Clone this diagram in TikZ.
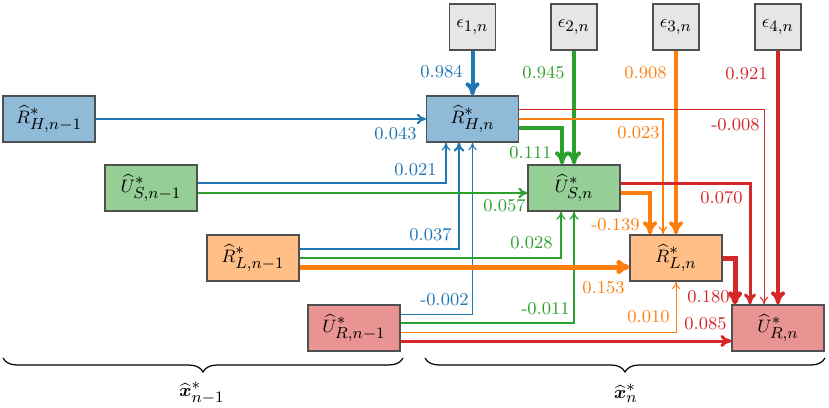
\documentclass[tikz,border=0pt]{standalone}
\usepackage{amsmath}
\DeclareMathSizes{9}{9}{8}{6}
\usetikzlibrary{arrows.meta,calc,decorations.pathreplacing}
\definecolor{cblue}{HTML}{1F77B4}
\definecolor{cgreen}{HTML}{2CA02C}
\definecolor{corange}{HTML}{FF7F0E}
\definecolor{cred}{HTML}{D62728}
\definecolor{boxline}{HTML}{505050}
\definecolor{epsfill}{HTML}{E6E6E6}
\tikzset{
  bx/.style={draw=boxline, line width=0.6pt, minimum width=46pt, minimum height=23pt, inner sep=0pt, font=\small},
  ebx/.style={draw=boxline, line width=0.6pt, fill=epsfill, minimum width=23pt, minimum height=23pt, inner sep=0pt, font=\small},
  lab/.style={inner sep=0pt, anchor=east, font=\small},
  w1/.style={line width=0.5pt, -{To[length=3.8pt,width=4.2pt]}},
  w2/.style={line width=0.65pt, -{To[length=4pt,width=4.5pt]}},
  w3/.style={line width=1pt, -{To[length=4.5pt,width=5.2pt]}},
  w4/.style={line width=1.5pt, -{To[length=5.5pt,width=6pt]}},
  w5/.style={line width=2pt, -{To[length=6.5pt,width=7pt]}},
  w6/.style={line width=2.5pt, -{To[length=6.5pt,width=7pt]}},
  brc/.style={decorate, decoration={brace, mirror, amplitude=7pt}, line width=0.6pt},
}
\begin{document}
\begin{tikzpicture}[x=0.5pt, y=-0.5pt]
\useasboundingbox (0,0) rectangle (829,407);
% previous state
\node[bx, fill=cblue!50!white]   (RHp) at (49,119)  {$\widehat{R}^*_{H,n-1}$};
\node[bx, fill=cgreen!50!white]  (USp) at (151,188) {$\widehat{U}^*_{S,n-1}$};
\node[bx, fill=corange!50!white] (RLp) at (253,258) {$\widehat{R}^*_{L,n-1}$};
\node[bx, fill=cred!50!white]    (URp) at (354,328) {$\widehat{U}^*_{R,n-1}$};
% current state
\node[bx, fill=cblue!50!white]   (RH) at (472.5,119) {$\widehat{R}^*_{H,n}$};
\node[bx, fill=cgreen!50!white]  (US) at (574,188)   {$\widehat{U}^*_{S,n}$};
\node[bx, fill=corange!50!white] (RL) at (676,258)   {$\widehat{R}^*_{L,n}$};
\node[bx, fill=cred!50!white]    (UR) at (778,328)   {$\widehat{U}^*_{R,n}$};
% noise
\node[ebx] (E1) at (472.5,27) {$\epsilon_{1,n}$};
\node[ebx] (E2) at (574,27)   {$\epsilon_{2,n}$};
\node[ebx] (E3) at (676,27)   {$\epsilon_{3,n}$};
\node[ebx] (E4) at (778,27)   {$\epsilon_{4,n}$};
% blue
\draw[w5,cblue] (E1) -- (RH);
\draw[w3,cblue] (RHp.east) -- (RH.west);
\draw[w2,cblue] ($(USp.east)+(0,-5)$) -| ($(RH.south)+(-26.5,0)$);
\draw[w3,cblue] ($(RLp.east)+(0,-9)$) -| ($(RH.south)+(-13.5,0)$);
\draw[w1,cblue] ($(URp.east)+(0,-14)$) -| (RH.south);
% green
\draw[w5,cgreen] (E2) -- (US);
\draw[w5,cgreen] ($(RH.east)+(0,9)$) -| ($(US.north)+(-12,0)$);
\draw[w3,cgreen] ($(USp.east)+(0,5)$) -- ($(US.west)+(0,5)$);
\draw[w2,cgreen] (RLp.east) -| ($(US.south)+(-13,0)$);
\draw[w2,cgreen] ($(URp.east)+(0,-5)$) -| (US.south);
% orange
\draw[w5,corange] (E3) -- (RL);
\draw[w2,corange] (RH.east) -| ($(RL.north)+(-13,0)$);
\draw[w5,corange] ($(US.east)+(0,5)$) -| ($(RL.north)+(-26,0)$);
\draw[w6,corange] ($(RLp.east)+(0,9)$) -- ($(RL.west)+(0,9)$);
\draw[w1,corange] ($(URp.east)+(0,4)$) -| (RL.south);
% red
\draw[w5,cred] (E4) -- (UR);
\draw[w1,cred] ($(RH.east)+(0,-9.5)$) -| ($(UR.north)+(-14,0)$);
\draw[w4,cred] ($(US.east)+(0,-5)$) -| ($(UR.north)+(-28,0)$);
\draw[w6,cred] (RL.east) -| ($(UR.north)+(-43,0)$);
\draw[w4,cred] ($(URp.east)+(0,13)$) -- ($(UR.west)+(0,13)$);
% labels blue
\node[lab,text=cblue] (lb1) at (463,72)  {0.984};
\node[lab,text=cblue] (lb2) at (417,134) {0.043};
\node[lab,text=cblue] (lb3) at (437,170) {0.021};
\node[lab,text=cblue] (lb4) at (452,235) {0.037};
\node[lab,text=cblue] (lb5) at (469,300) {-0.002};
% labels green
\node[lab,text=cgreen] (lg1) at (565,73)  {0.945};
\node[lab,text=cgreen] (lg2) at (552,153) {0.111};
\node[lab,text=cgreen] (lg3) at (526,206) {0.057};
\node[lab,text=cgreen] (lg4) at (553,243) {0.028};
\node[lab,text=cgreen] (lg5) at (570,309) {-0.011};
% labels orange
\node[lab,text=corange] (lo1) at (667,73)  {0.908};
\node[lab,text=corange] (lo2) at (660,133) {0.023};
\node[lab,text=corange] (lo3) at (640,225) {-0.139};
\node[lab,text=corange] (lo4) at (625,288) {0.153};
\node[lab,text=corange] (lo5) at (670,317) {0.010};
% labels red
\node[lab,text=cred] (lr1) at (768,74)  {0.921};
\node[lab,text=cred] (lr2) at (760,125) {-0.008};
\node[lab,text=cred] (lr3) at (743,198) {0.070};
\node[lab,text=cred] (lr4) at (730,297) {0.180};
\node[lab,text=cred] (lr5) at (727,324) {0.085};
% braces
\coordinate (b1a) at (3,358);
\coordinate (b1b) at (403,358);
\coordinate (b2a) at (425,358);
\coordinate (b2b) at (825,358);
\draw[brc] (b1a) -- (b1b);
\draw[brc] (b2a) -- (b2b);
\node[font=\small] (xprev) at (202,393) {$\widehat{\boldsymbol{x}}^*_{n-1}$};
\node[font=\small] (xcur)  at (626,393) {$\widehat{\boldsymbol{x}}^*_{n}$};
\end{tikzpicture}
\end{document}
